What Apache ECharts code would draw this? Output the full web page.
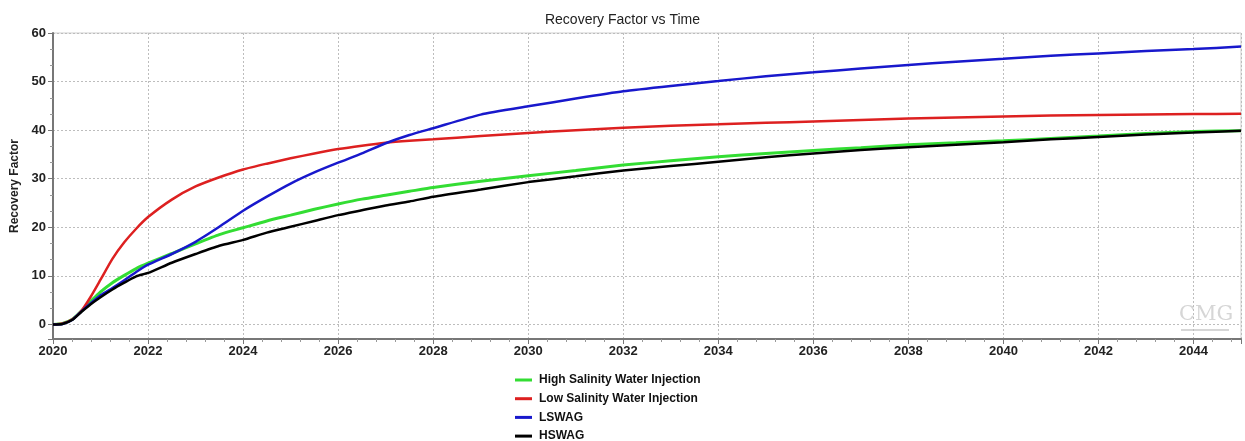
<!DOCTYPE html>
<html><head><meta charset="utf-8">
<script src="https://cdn.jsdelivr.net/npm/echarts@6/dist/echarts.min.js"></script>
<style>html,body{margin:0;padding:0;background:#fff}#c{width:1245px;height:441px}</style>
</head><body><div id="c"></div>
<script>
const years = [2020, 2020.2, 2020.4, 2020.6, 2020.8, 2021, 2021.25, 2021.5, 2021.75, 2022, 2022.5, 2023, 2023.5, 2024, 2024.5, 2025, 2025.5, 2026, 2026.5, 2027, 2027.5, 2028, 2029, 2030, 2031, 2032, 2033, 2034, 2035, 2036, 2037, 2038, 2039, 2040, 2041, 2042, 2043, 2044, 2045];
const highSalinityWI = [0, 0.2, 1.0, 2.8, 4.8, 6.7, 8.6, 10.1, 11.5, 12.6, 14.6, 16.6, 18.5, 19.9, 21.3, 22.5, 23.7, 24.8, 25.8, 26.6, 27.4, 28.2, 29.5, 30.6, 31.7, 32.8, 33.7, 34.5, 35.2, 35.8, 36.4, 37.0, 37.4, 37.8, 38.3, 38.8, 39.3, 39.7, 39.9];
const lowSalinityWI = [0, 0.2, 1.0, 2.8, 5.8, 9.2, 13.5, 16.9, 19.7, 22.1, 25.7, 28.4, 30.3, 31.9, 33.1, 34.2, 35.2, 36.1, 36.8, 37.4, 37.8, 38.1, 38.8, 39.4, 40.0, 40.5, 40.9, 41.2, 41.5, 41.8, 42.1, 42.4, 42.6, 42.8, 43.0, 43.1, 43.2, 43.3, 43.4];
const lswag = [0, 0.1, 0.9, 2.7, 4.4, 6.0, 7.5, 9.1, 10.8, 12.3, 14.5, 17.0, 20.1, 23.4, 26.3, 29.0, 31.3, 33.3, 35.2, 37.3, 39.0, 40.4, 43.2, 44.9, 46.5, 48.0, 49.1, 50.1, 51.1, 51.9, 52.7, 53.4, 54.1, 54.7, 55.3, 55.8, 56.3, 56.7, 57.2];
const hswag = [0, 0.1, 0.9, 2.6, 4.2, 5.6, 7.2, 8.6, 9.9, 10.6, 12.7, 14.5, 16.2, 17.4, 18.9, 20.1, 21.3, 22.5, 23.5, 24.5, 25.3, 26.3, 27.8, 29.3, 30.5, 31.7, 32.6, 33.5, 34.4, 35.2, 35.9, 36.5, 37.0, 37.5, 38.1, 38.6, 39.1, 39.5, 39.9];
const seriesNames = ['High Salinity Water Injection', 'Low Salinity Water Injection', 'LSWAG', 'HSWAG'];
const seriesColors = ['#33dd33', '#dd2020', '#1818cc', '#000000'];
const seriesValues = [highSalinityWI, lowSalinityWI, lswag, hswag];

const FONT = 'Liberation Sans, Arial, sans-serif';
const chart = echarts.init(document.getElementById('c'), null, {renderer: 'canvas'});
const dashed = {show: true, lineStyle: {color: '#bdbdbd', type: [2, 2], width: 1}};
chart.setOption({
  animation: false,
  backgroundColor: '#fff',
  title: {text: 'Recovery Factor vs Time', left: 'center', top: 8,
    textStyle: {fontFamily: FONT, fontSize: 14, fontWeight: 'normal', color: '#222'}},
  grid: {left: 53, right: 4, top: 33, bottom: 102, show: true, borderColor: '#cfcfcf', borderWidth: 1},
  legend: {orient: 'vertical', left: 515, top: 373, height: 120, padding: 0,
    itemWidth: 17, itemHeight: 3, itemGap: 4.7, icon: 'rect',
    data: seriesNames,
    textStyle: {fontFamily: FONT, fontSize: 12, fontWeight: 'bold', color: '#111', lineHeight: 14, padding: [0, 0, 0, 2]}},
  xAxis: {type: 'value', min: 2020, max: 2045, interval: 2,
    axisLine: {show: true, onZero: false, lineStyle: {color: '#777', width: 2}},
    axisTick: {show: true, length: 5, lineStyle: {color: '#777'}},
    minorTick: {show: true, splitNumber: 5, length: 3, lineStyle: {color: '#999'}},
    axisLabel: {fontFamily: FONT, fontSize: 13, fontWeight: 'bold', color: '#222', margin: 6,
      showMaxLabel: false, formatter: v => String(v)},
    splitLine: dashed},
  yAxis: {type: 'value', min: -3, max: 60, splitNumber: 6,
    name: 'Recovery Factor', nameLocation: 'middle', nameGap: 29, nameRotate: 90,
    nameTextStyle: {fontFamily: FONT, fontSize: 12, fontWeight: 'bold', color: '#222'},
    axisLine: {show: true, lineStyle: {color: '#777', width: 2}},
    axisTick: {show: true, length: 5, lineStyle: {color: '#777'}},
    minorTick: {show: true, splitNumber: 3, length: 3, lineStyle: {color: '#999'}},
    axisLabel: {fontFamily: FONT, fontSize: 13, fontWeight: 'bold', color: '#222', margin: 7, showMinLabel: false},
    splitLine: dashed},
  graphic: [
    {type: 'text', left: 1179, top: 304, silent: true,
      style: {text: 'CMG', fontFamily: 'DejaVu Serif, serif', fontSize: 21, fill: '#d6d6d6'}},
    {type: 'line', silent: true, shape: {x1: 1181, y1: 330, x2: 1229, y2: 330},
      style: {stroke: '#d6d6d6', lineWidth: 2}}
  ],
  series: seriesNames.map((n, i) => ({
    name: n, type: 'line', showSymbol: false, smooth: 0.2,
    color: seriesColors[i],
    lineStyle: {width: i === 0 ? 3 : 2.5, color: seriesColors[i]},
    data: years.map((y, k) => [y, seriesValues[i][k]])
  }))
});
</script></body></html>
